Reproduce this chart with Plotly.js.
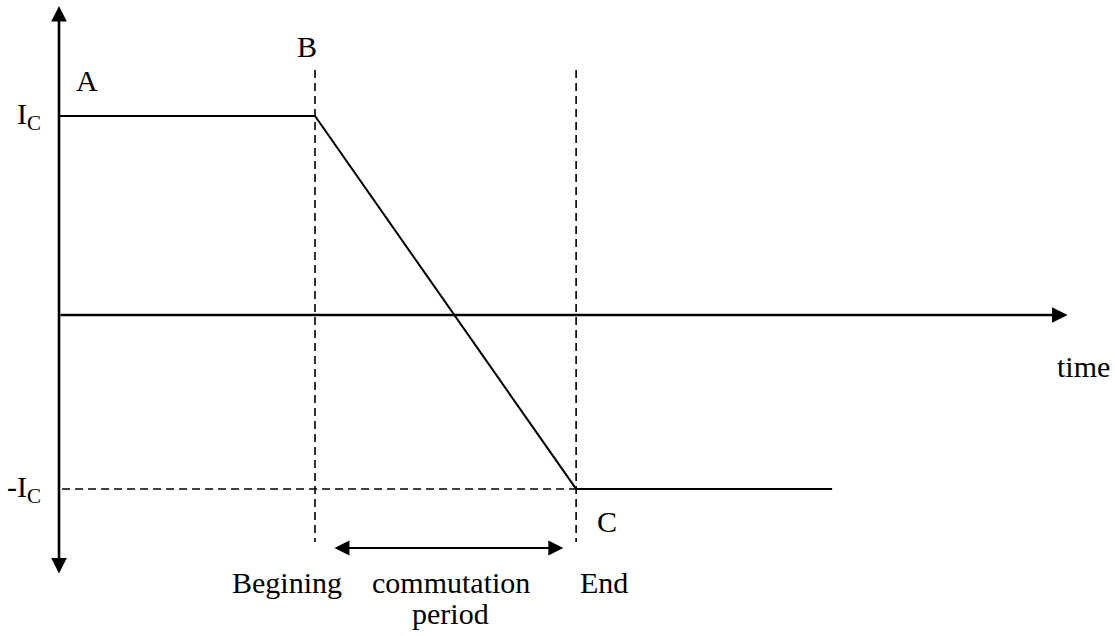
<!DOCTYPE html>
<html><head><meta charset="utf-8">
<script src="https://cdn.plot.ly/plotly-3.0.1.min.js"></script>
<style>html,body{margin:0;padding:0;background:#fff;}</style>
</head><body><div id="chart" style="width:1115px;height:636px;"></div>
<script>
// ---- data (time in arbitrary units, current relative to I_C) ----
const waveTime    = [0, 10, 20.2, 30.2];          // A, B, C, end of flat -I_C segment
const waveCurrent = [1, 1, -0.874, -0.874];       // I_C ... -I_C
const eventTimes  = [10, 20.2];                   // beginning / end of commutation
const eventNames  = ['Begining', 'End'];
const levelValues = [1, -0.874];
const levelNames  = ['I<sub>C</sub>', '-I<sub>C</sub>'];
const pointNames  = ['A', 'B', 'C'];
const periodNames = ['commutation', 'period'];
const axisName    = 'time';

// ---- view extents ----
const xRange = [-2.305, 41.25];
const yRange = [-1.613, 1.583];
const xAxisEnd = 39.4, yAxisTop = 1.553, yAxisBottom = -1.307;
const dashTop = 1.231, dashBottom = -1.141;
const periodY = -1.171, periodGap = 0.5;

const font = {family: 'Liberation Serif, "Times New Roman", serif', size: 30, color: '#000'};
const dashStyle = {color: '#000', width: 1.6, dash: '8px,5px'};

const traces = [];
// dashed verticals
eventTimes.forEach(t => traces.push({x: [t, t], y: [dashTop, dashBottom], mode: 'lines', line: dashStyle, hoverinfo: 'skip'}));
// dashed -I_C level
traces.push({x: [waveTime[0] + 0.12, waveTime[2]], y: [levelValues[1], levelValues[1]], mode: 'lines', line: dashStyle, hoverinfo: 'skip'});
// waveform
traces.push({x: waveTime, y: waveCurrent, mode: 'lines', line: {color: '#000', width: 2}, hoverinfo: 'skip'});

const ann = [];
// horizontal axis
ann.push({x: xAxisEnd, y: 0, ax: 0, ay: 0, axref: 'x', ayref: 'y', xref: 'x', yref: 'y', text: '', showarrow: true,
  arrowhead: 2, arrowwidth: 2.6, arrowsize: 1.2, arrowcolor: '#000', standoff: 0, startstandoff: 0});
// vertical axis (both ends)
ann.push({x: 0, y: yAxisTop, ax: 0, ay: yAxisBottom, axref: 'x', ayref: 'y', xref: 'x', yref: 'y', text: '', showarrow: true,
  arrowhead: 2, startarrowhead: 2, arrowside: 'end+start', arrowwidth: 2.6, arrowsize: 1.2, startarrowsize: 1.2, arrowcolor: '#000', standoff: 0, startstandoff: 0});
// commutation period double arrow
ann.push({x: eventTimes[1] - periodGap, y: periodY, ax: eventTimes[0] + 0.7, ay: periodY, axref: 'x', ayref: 'y', xref: 'x', yref: 'y', text: '', showarrow: true,
  arrowhead: 2, startarrowhead: 2, arrowside: 'end+start', arrowwidth: 2, arrowsize: 1.5, startarrowsize: 1.5, arrowcolor: '#000', standoff: 0, startstandoff: 0});

function label(text, x, y, xanchor, yanchor) {
  ann.push({text: text, x: x, y: y, xref: 'x', yref: 'y', showarrow: false, font: font, xanchor: xanchor || 'center', yanchor: yanchor || 'middle'});
}
label(pointNames[0], 1.1, 1.18);
label(pointNames[1], waveTime[1] - 0.3, 1.35);
label(pointNames[2], waveTime[2] + 1.2, -1.04);
label(levelNames[0], -0.62, levelValues[0], 'right');
label(levelNames[1], -0.62, levelValues[1], 'right');
label(eventNames[0], eventTimes[0] - 1.1, -1.345);
label(eventNames[1], eventTimes[1] + 1.1, -1.345);
label(periodNames[0], (eventTimes[0] + eventTimes[1]) / 2 + 0.2, -1.345);
label(periodNames[1], (eventTimes[0] + eventTimes[1]) / 2 + 0.2, -1.5);
label(axisName, 40.0, -0.26);

const layout = {
  width: 1115, height: 636,
  margin: {l: 0, r: 0, t: 0, b: 0},
  paper_bgcolor: '#fff', plot_bgcolor: '#fff',
  showlegend: false,
  xaxis: {range: xRange, visible: false, fixedrange: true},
  yaxis: {range: yRange, visible: false, fixedrange: true},
  annotations: ann
};
Plotly.newPlot('chart', traces, layout, {staticPlot: true, displayModeBar: false});
</script></body></html>
